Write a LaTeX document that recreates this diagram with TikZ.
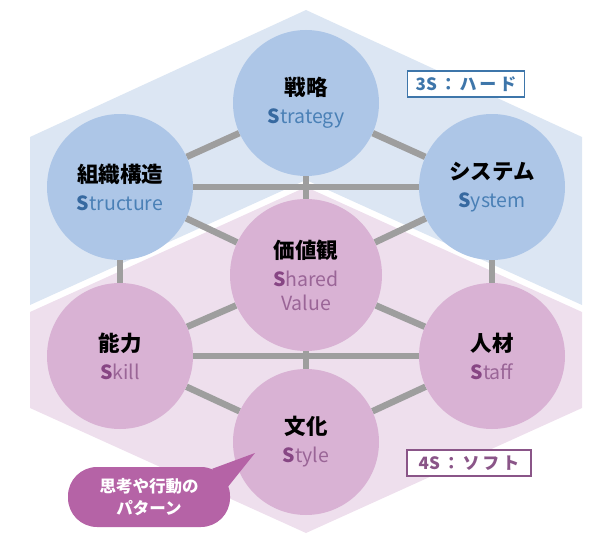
\documentclass[tikz,border=0pt]{standalone}
\usepackage{xcolor}
\usepackage{fontspec}
\setmainfont{Noto Sans CJK JP}
\usepackage{tikz}
\usetikzlibrary{positioning,backgrounds,calc}
\definecolor{hardbg}{HTML}{DCE6F3}
\definecolor{softbg}{HTML}{EEDFED}
\definecolor{hardfill}{HTML}{ADC6E7}
\definecolor{softfill}{HTML}{D9B2D4}
\definecolor{hardtxt}{HTML}{4A80B6}
\definecolor{hardS}{HTML}{3769A0}
\definecolor{softtxt}{HTML}{9A6597}
\definecolor{softS}{HTML}{874684}
\definecolor{hardtag}{HTML}{3E76AA}
\definecolor{softtag}{HTML}{8A5588}
\definecolor{linkgray}{HTML}{9E9E9E}
\definecolor{bubble}{HTML}{B563A6}
\newcommand{\jp}[1]{{\fontsize{21.5}{28}\selectfont\bfseries #1}}
\newcommand{\hname}[1]{{\color{hardtxt}\textbf{\color{hardS}S}#1}}
\newcommand{\sname}[1]{{\color{softtxt}\textbf{\color{softS}S}#1}}
\tikzset{
  circ/.style={circle, minimum size=146pt, inner sep=0pt, align=center,
               font=\fontsize{19.5}{28}\selectfont},
  hardnode/.style={circ, fill=hardfill},
  softnode/.style={circ, fill=softfill},
  tag/.style={rectangle, line width=1.5pt, fill=white, minimum height=26pt,
              inner sep=0pt, font=\fontsize{17}{17}\selectfont\bfseries},
  hardtagbox/.style={tag, draw=hardtag, text=hardtag, minimum width=117pt},
  softtagbox/.style={tag, draw=softtag, text=softtag, minimum width=124pt},
  callout/.style={rectangle, rounded corners=29pt, fill=bubble, text=white,
                  minimum width=162pt, minimum height=60pt, align=center,
                  font=\fontsize{16.5}{22}\selectfont\bfseries},
  link/.style={draw=linkgray, line width=6.5pt},
}
\begin{document}
\begin{tikzpicture}[x=1pt,y=-1pt]
\useasboundingbox (0,0) rectangle (600,543);

\node[hardnode] (strategy)  at (306,103) {\jp{戦略}\\\hname{trategy}};
\node[hardnode] (structure) at (120,187) {\jp{組織構造}\\\hname{tructure}};
\node[hardnode] (system)    at (492,187) {\jp{システム}\\\hname{ystem}};
\node[softnode, minimum size=152pt, font=\fontsize{19.5}{24}\selectfont]
                (shared)    at (306,275) {\jp{価値観}\\[4pt]\sname{hared}\\{\color{softtxt}Value}};
\node[softnode] (skill)     at (120,356) {\jp{能力}\\\sname{kill}};
\node[softnode] (staff)     at (492,356) {\jp{人材}\\\sname{taff}};
\node[softnode] (style)     at (306,442) {\jp{文化}\\\sname{tyle}};

\node[hardtagbox] (hard) at (466,84)  {3S\,：\,ハ\,ー\,ド};
\node[softtagbox] (soft) at (469,463) {4S\,：\,ソ\,フ\,ト};

\node[callout] (note) at (149,497) {思考や行動の\\パターン};
\coordinate (tip) at (255,453);
\fill[bubble] ($(note.north east)+(-18,2)$) -- (tip) -- ($(note.north east)+(-3,21)$) -- cycle;

\begin{scope}[on background layer]
\fill[hardbg] (30,137) -- (306,10) -- (582,137) -- (582,305) -- (306,180) -- (30,305) -- cycle;
\fill[softbg] (30,312) -- (306,187) -- (582,312) -- (582,408) -- (306,533) -- (30,408) -- cycle;
\end{scope}
\begin{scope}[on background layer]
\foreach \a/\b in {strategy/structure,strategy/system,structure/skill,system/staff,
                   skill/style,staff/style,structure/system,skill/staff,strategy/style,
                   shared/structure,shared/system,shared/skill,shared/staff}
  \draw[link] (\a) -- (\b);
\end{scope}
\end{tikzpicture}
\end{document}
